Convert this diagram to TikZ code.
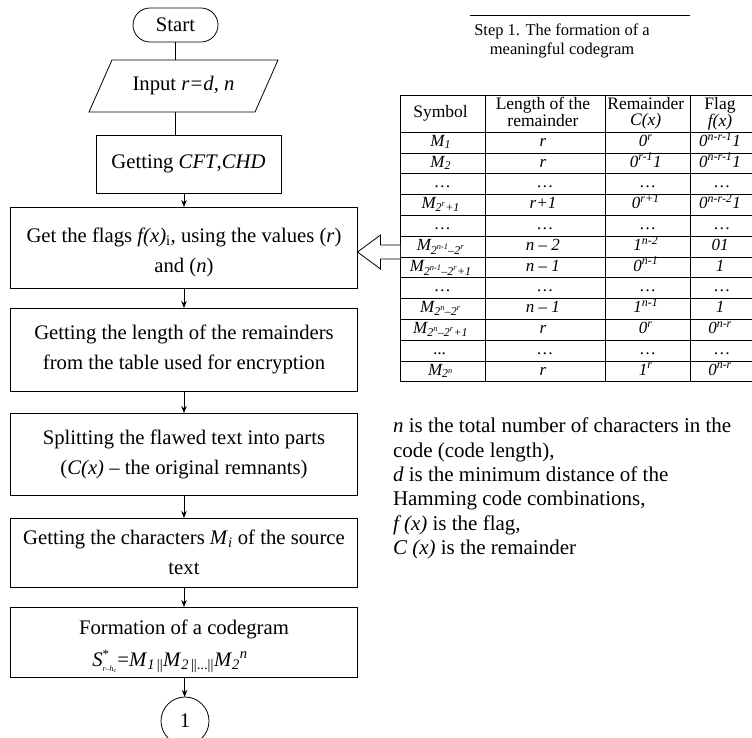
\documentclass[tikz,border=0pt]{standalone}
\usepackage{fontspec}
\setmainfont{Liberation Serif}
\usetikzlibrary{arrows.meta,calc,matrix}

\newcommand\fs[2]{\fontsize{#1}{#2}\selectfont}
\newcommand\up[1]{\textsuperscript{#1}}
\newcommand\dn[1]{\textsubscript{#1}}
\newcommand\two[2]{\begin{tabular}{@{}c@{}}#1\\#2\end{tabular}}

\begin{document}
\begin{tikzpicture}[x=1pt,y=-1pt,
  every node/.style={inner sep=0pt,outer sep=0pt},
  line/.style={line width=0.8pt},
  flow/.style={line width=0.8pt,-{Stealth[length=7pt,width=5.5pt]}},
  box/.style={draw,line width=0.8pt,align=flush center,text width=345pt,
    minimum width=347pt,font=\fs{20.7}{30}},
]
\useasboundingbox (0,0) rectangle (752,737);

% ---------------- flowchart ----------------
\node[draw,line,rounded corners=17pt,minimum width=85pt,minimum height=34pt,
  font=\fs{20.7}{24}] (start) at (175.5,25) {Start};

% input step: parallelogram drawn round its label
\node[font=\fs{20.7}{24}] (inp) at (183.5,86) {Input \textit{r=d}, \textit{n}};
\coordinate (pTL) at (112,60);
\coordinate (pTR) at (278,60);
\coordinate (pBR) at (255,112);
\coordinate (pBL) at (89,112);
\draw[line] (pTL) -- (pTR) -- (pBR) -- (pBL) -- cycle;

\node[draw,line,minimum width=185pt,minimum height=58pt,font=\fs{20.7}{24}]
  (cft) at (188.5,164) {Getting \textit{CFT},\textit{CHD}};

% the struts at the start of a line leave extra room above the text
\node[box,minimum height=81pt] (b3) at (184,247.5)
  {\rule{0pt}{25pt}Get the flags \textit{f(x)}\dn{i}, using the values (\textit{r})\\ and (\textit{n})};
\node[box,minimum height=83pt] (b4) at (184,349.5)
  {Getting the length of the remainders\\ from the table used for encryption};
\node[box,minimum height=82pt] (b5) at (184,454)
  {Splitting the flawed text into parts\\ (\textit{C(x)} -- the original remnants)};
\node[box,minimum height=69pt] (b6) at (184,552.5)
  {Getting the characters \textit{M}\dn{\textit{i}} of the source\\ text};
\node[box,minimum height=70pt] (b7) at (184,642)
  {\rule{0pt}{23pt}Formation of a codegram\\[2pt]
   \hspace*{-28pt}\textit{S}\ensuremath{^{\mbox{\fs{13}{13}*}}_{\mbox{\fs{8}{8}\itshape r--h\dn{c}}}}%
   =\textit{M}\dn{\textit{1}\,||}\textit{M}\dn{\textit{2}\,||...||}\textit{M}\dn{\textit{2}}\up{\textit{n}}};
\node[draw,line,circle,minimum size=48pt,font=\fs{20.7}{24}] (c1) at (185,721) {1};

\draw[line] (start.south) -- (start.south |- pTL);
\draw[line] (start.south |- pBL) -- (start.south |- cft.north);
\draw[flow] (b3.north |- cft.south) -- (b3.north);
\draw[flow] (b3) -- (b4);
\draw[flow] (b4) -- (b5);
\draw[flow] (b5) -- (b6);
\draw[flow] (b6) -- (b7);
\draw[flow] (b7) -- (c1);

% ---------------- heading ----------------
\coordinate (rl) at (470,15);
\coordinate (rr) at (690,15);
\draw[line width=0.6pt] (rl) -- (rr);
\node[anchor=north,align=center,font=\fs{16.5}{19}] (title) at (562,24)
  {Step 1. The formation of a\\ meaningful codegram};

% ---------------- table ----------------
\matrix (tbl) [matrix of nodes,anchor=north west,inner sep=0pt,
  row sep=-0.8pt,column sep=-0.8pt,nodes in empty cells,
  nodes={draw,line width=0.8pt,inner sep=0pt,anchor=center,align=center,
    minimum height=20.8pt,text height=11.5pt,text depth=4pt,
    font=\fs{17}{15}\itshape},
  column 1/.style={nodes={minimum width=84.8pt}},
  column 2/.style={nodes={minimum width=119.8pt}},
  column 3/.style={nodes={minimum width=85.8pt}},
  column 4/.style={nodes={minimum width=62.8pt}},
  row 1/.style={nodes={minimum height=36.8pt,text height=,text depth=,
    font=\fs{17.5}{15.5}\upshape}},
] at (400,95) {
  Symbol & \two{Length of the}{remainder} & \two{Remainder}{\textit{C(x)}} & \two{Flag}{\textit{f(x)}} \\
  M\dn{1} & r & 0\up{r} & 0\up{n-r-1}1 \\
  M\dn{2} & r & 0\up{r-1}1 & 0\up{n-r-1}1 \\
  \dots & \dots & \dots & \dots \\
  M\dn{2\up{r}+1} & r+1 & 0\up{r+1} & 0\up{n-r-2}1 \\
  \dots & \dots & \dots & \dots \\
  M\dn{2\up{n-1}--2\up{r}} & n -- 2 & 1\up{n-2} & 01 \\
  M\dn{2\up{n-1}--2\up{r}+1} & n -- 1 & 0\up{n-1} & 1 \\
  \dots & \dots & \dots & \dots \\
  M\dn{2\up{n}--2\up{r}} & n -- 1 & 1\up{n-1} & 1 \\
  M\dn{2\up{n}--2\up{r}+1} & r & 0\up{r} & 0\up{n-r} \\
  ... & \dots & \dots & \dots \\
  M\dn{2\up{n}} & r & 1\up{r} & 0\up{n-r} \\
};

% hollow arrow from the table into the flag step
\coordinate (ay) at (0,252);
\coordinate (tip) at (b3.east |- ay);
\coordinate (tail) at (tbl.west |- ay);
\draw[line,fill=white] ($(tail)+(0,-7)$) -- ($(tip)+(23,-7)$) -- ($(tip)+(23,-17)$)
  -- (tip) -- ($(tip)+(23,17)$) -- ($(tip)+(23,7)$) -- ($(tail)+(0,7)$);

% ---------------- legend ----------------
\node[anchor=north west,align=left,font=\fs{21}{24.4}] (legend) at (393,418)
  {\textit{n} is the total number of characters in the\\
   code (code length),\\
   \textit{d} is the minimum distance of the\\
   Hamming code combinations,\\
   \textit{f (x)} is the flag,\\
   \textit{C (x)} is the remainder};
\end{tikzpicture}
\end{document}
